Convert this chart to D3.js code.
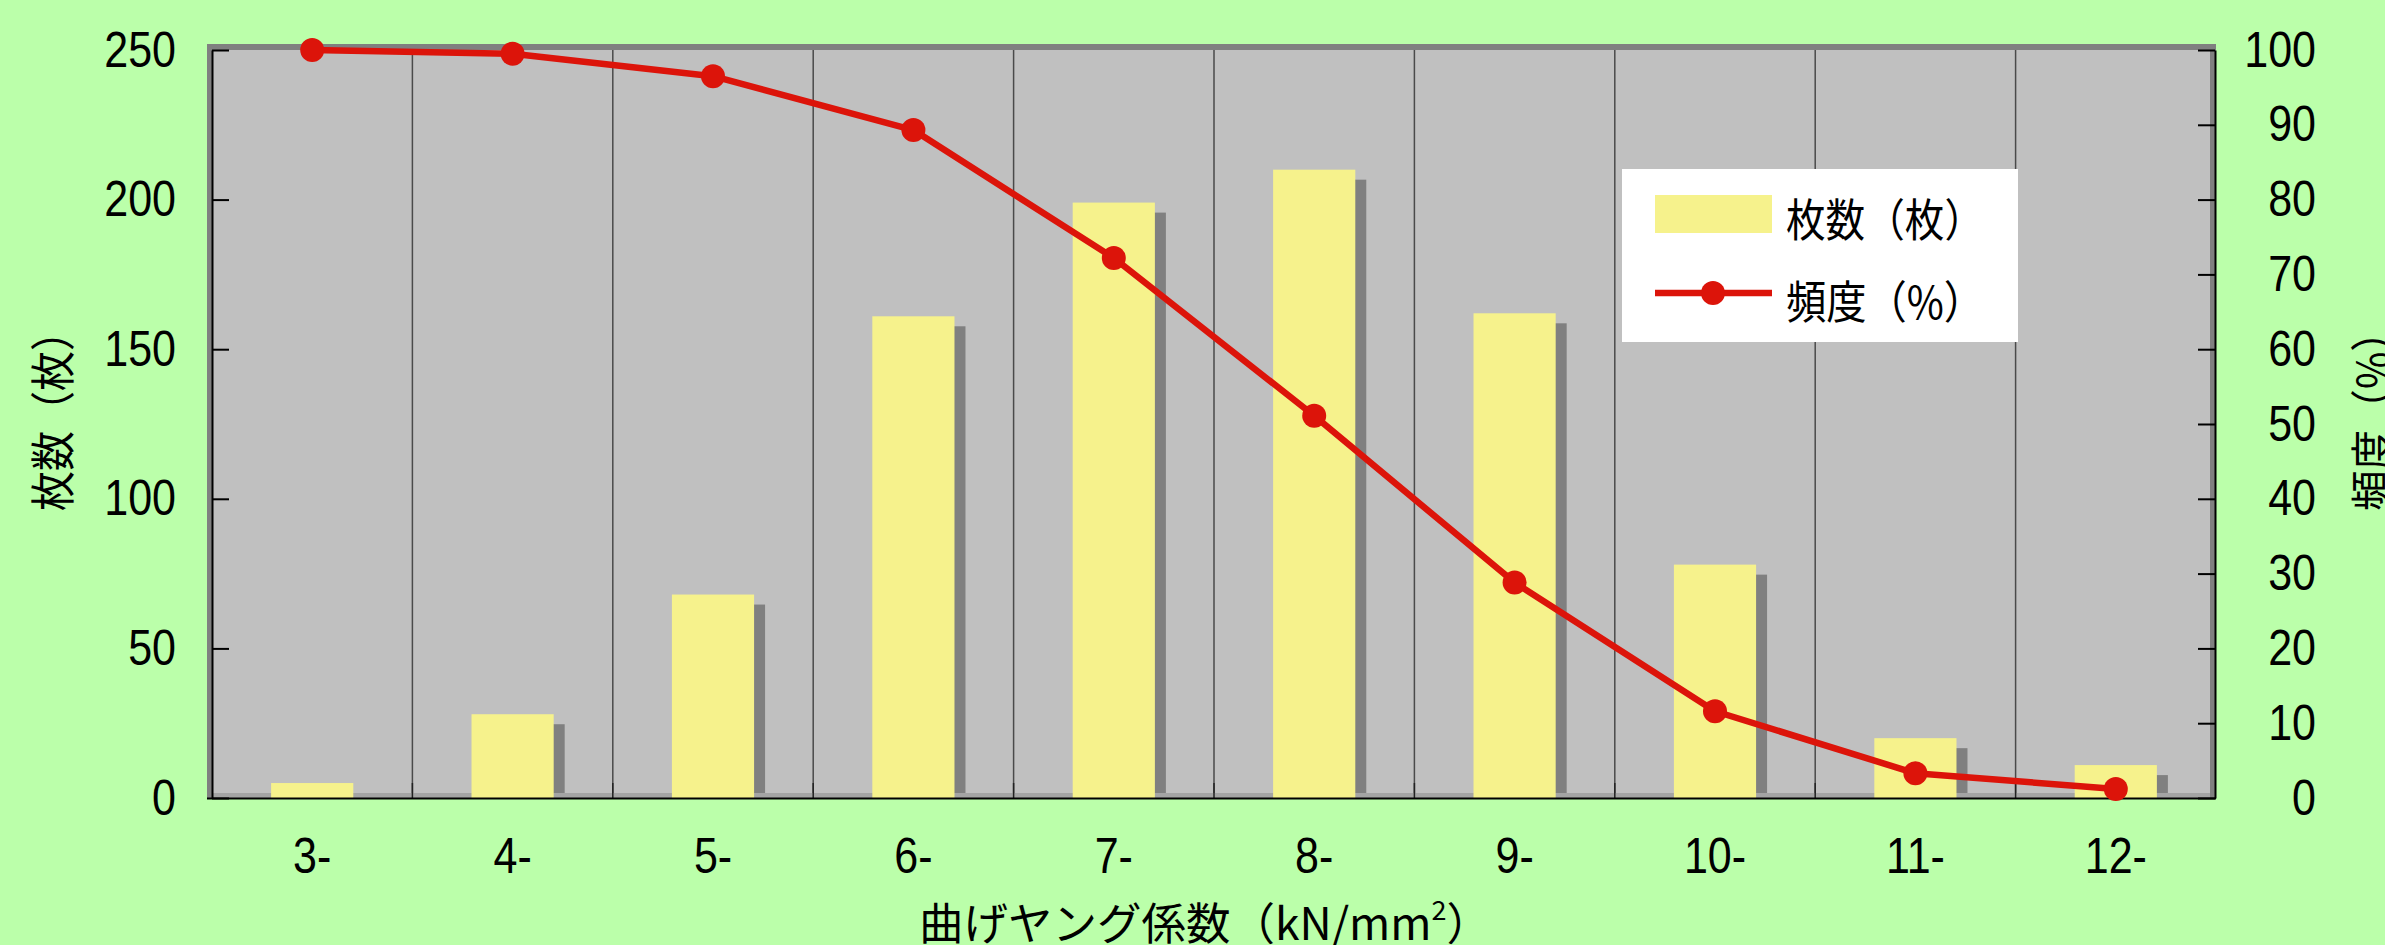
<!DOCTYPE html>
<html>
<head>
<meta charset="utf-8">
<script src="https://cdn.jsdelivr.net/npm/d3@7"></script>
<style>
html, body { margin: 0; padding: 0; background: #BBFFAA; }
svg { display: block; }
.cjk { font-family: "Noto Sans CJK JP", "Noto Sans", sans-serif; }
.num { font-family: "Liberation Sans", "Noto Sans", sans-serif; }
</style>
</head>
<body>
<script>
// ---- data ----
const categories = ["3-", "4-", "5-", "6-", "7-", "8-", "9-", "10-", "11-", "12-"];
const counts = [5, 28, 68, 161, 199, 210, 162, 78, 20, 11];            // 枚数（枚）
const frequency = [100, 99.5, 96.5, 89.3, 72.2, 51.1, 28.8, 11.6, 3.3, 1.2]; // 頻度（%）
const leftTicks = [0, 50, 100, 150, 200, 250];
const rightTicks = [0, 10, 20, 30, 40, 50, 60, 70, 80, 90, 100];
const seriesNames = ["枚数（枚）", "頻度（%）"];
const xTitle = "曲げヤング係数（kN/mm";
const yLeftTitle = "枚数（枚）";
const yRightTitle = "頻度（%）";

// ---- layout ----
const W = 2385, H = 945;
const L = 212, R = 2215, T = 50, B = 798;

const svg = d3.select("body").append("svg").attr("width", W).attr("height", H);
svg.append("rect").attr("width", W).attr("height", H).attr("fill", "#BBFFAA");

const x = d3.scaleBand().domain(categories).range([L, R + 1]).paddingInner(0).paddingOuter(0);
const yL = d3.scaleLinear().domain([0, 250]).range([B, T]);
const yR = d3.scaleLinear().domain([0, 100]).range([B, T]);

// condense a text horizontally to a fraction of its natural width
function condense(sel, f) {
  sel.each(function () {
    const w = this.getComputedTextLength();
    d3.select(this).attr("textLength", w * f).attr("lengthAdjust", "spacingAndGlyphs");
  });
}
function fitTo(sel, w) {
  sel.attr("textLength", w).attr("lengthAdjust", "spacingAndGlyphs");
}

// plot area (with dark rim)
svg.append("rect").attr("x", L - 5).attr("y", T - 6).attr("width", R + 1 - (L - 5)).attr("height", B + 1 - (T - 6)).attr("fill", "#808080");
svg.append("rect").attr("x", L + 1).attr("y", T).attr("width", (R - 5) - (L + 1)).attr("height", (B - 5) - T).attr("fill", "#C0C0C0");

// vertical gridlines at band boundaries
const bounds = categories.slice(1).map(c => x(c));
svg.append("g").selectAll("line").data(bounds).join("line")
  .attr("x1", d => d).attr("x2", d => d).attr("y1", T).attr("y2", B - 5)
  .attr("stroke", "#4a4a4a").attr("stroke-width", 1.5);

// floor strip
svg.append("rect").attr("x", L + 1).attr("y", B - 5).attr("width", (R - 5) - (L + 1)).attr("height", 5).attr("fill", "#A4A4A4");
svg.append("g").selectAll("line").data(bounds).join("line")
  .attr("x1", d => d).attr("x2", d => d).attr("y1", B - 15).attr("y2", B)
  .attr("stroke", "#222").attr("stroke-width", 1.5);

// bars
const bw = x.bandwidth() * 0.41;
const bx = c => x(c) + (x.bandwidth() - bw) / 2;
svg.append("g").selectAll("rect").data(categories).join("rect")
  .attr("x", c => bx(c) + 11).attr("y", (c, i) => yL(counts[i]) + 10)
  .attr("width", bw).attr("height", (c, i) => B - 5 - (yL(counts[i]) + 10))
  .attr("fill", "#808080");
svg.append("g").selectAll("rect").data(categories).join("rect")
  .attr("x", c => bx(c)).attr("y", (c, i) => yL(counts[i]))
  .attr("width", bw).attr("height", (c, i) => B - yL(counts[i]))
  .attr("fill", "#F6F28C");

// axes
const axL = svg.append("g").attr("transform", `translate(${L},0)`)
  .call(d3.axisLeft(yL).tickValues(leftTicks).tickSize(-17).tickSizeOuter(0).tickPadding(36));
const axR = svg.append("g").attr("transform", `translate(${R},0)`)
  .call(d3.axisRight(yR).tickValues(rightTicks).tickSize(-17).tickSizeOuter(0).tickPadding(0));
axR.selectAll("text").attr("text-anchor", "end").attr("x", 101);
const axB = svg.append("g").attr("transform", `translate(0,${B})`)
  .call(d3.axisBottom(x).tickSize(0).tickSizeOuter(0).tickPadding(39));
[axL, axR, axB].forEach(a => {
  a.selectAll("path.domain").attr("stroke", "#000").attr("stroke-width", 2);
  a.selectAll(".tick line").attr("stroke", "#000").attr("stroke-width", 2);
  a.selectAll("text").attr("class", "num").attr("font-size", 50).attr("fill", "#000").attr("font-family", null);
  condense(a.selectAll("text"), 0.86);
});
axB.select("path.domain").attr("d", `M${L - 5},0.5H${R + 1}`);

// line series
const cx = c => x(c) + x.bandwidth() / 2;
const line = d3.line().x((d, i) => cx(categories[i])).y(d => yR(d));
svg.append("path").datum(frequency).attr("d", line)
  .attr("fill", "none").attr("stroke", "#DC140A").attr("stroke-width", 6.5).attr("stroke-linejoin", "round");
svg.append("g").selectAll("circle").data(frequency).join("circle")
  .attr("cx", (d, i) => cx(categories[i])).attr("cy", d => yR(d)).attr("r", 12).attr("fill", "#DC140A");

// legend
const lg = svg.append("g");
lg.append("rect").attr("x", 1622).attr("y", 169).attr("width", 396).attr("height", 173).attr("fill", "#fff");
lg.append("rect").attr("x", 1655).attr("y", 195).attr("width", 117).attr("height", 38).attr("fill", "#F6F28C");
lg.append("line").attr("x1", 1655).attr("x2", 1772).attr("y1", 293).attr("y2", 293).attr("stroke", "#DC140A").attr("stroke-width", 6.5);
lg.append("circle").attr("cx", 1713).attr("cy", 293).attr("r", 12).attr("fill", "#DC140A");
const lgt = lg.selectAll("text").data(seriesNames).join("text")
  .attr("class", "cjk").attr("x", 1786).attr("y", (d, i) => i === 0 ? 217 : 299)
  .attr("dominant-baseline", "central").attr("font-size", 45).attr("fill", "#000").text(d => d);
fitTo(lgt, 198);

// titles
const tl = svg.append("text").attr("class", "cjk").attr("transform", "translate(50,411) rotate(-90)")
  .attr("text-anchor", "middle").attr("dominant-baseline", "central").attr("font-size", 45).text(yLeftTitle);
fitTo(tl, 200);
const tr = svg.append("text").attr("class", "cjk").attr("transform", "translate(2370,411) rotate(-90)")
  .attr("text-anchor", "middle").attr("dominant-baseline", "central").attr("font-size", 45).text(yRightTitle);
fitTo(tr, 200);
const xt = svg.append("text").attr("class", "cjk").attr("x", 1205).attr("y", 920)
  .attr("text-anchor", "middle").attr("dominant-baseline", "central").attr("font-size", 44.5);
xt.append("tspan").text(xTitle);
xt.append("tspan").attr("font-size", 27).attr("dy", -12).text("2");
xt.append("tspan").attr("dy", 12).text("）");
</script>
</body>
</html>
